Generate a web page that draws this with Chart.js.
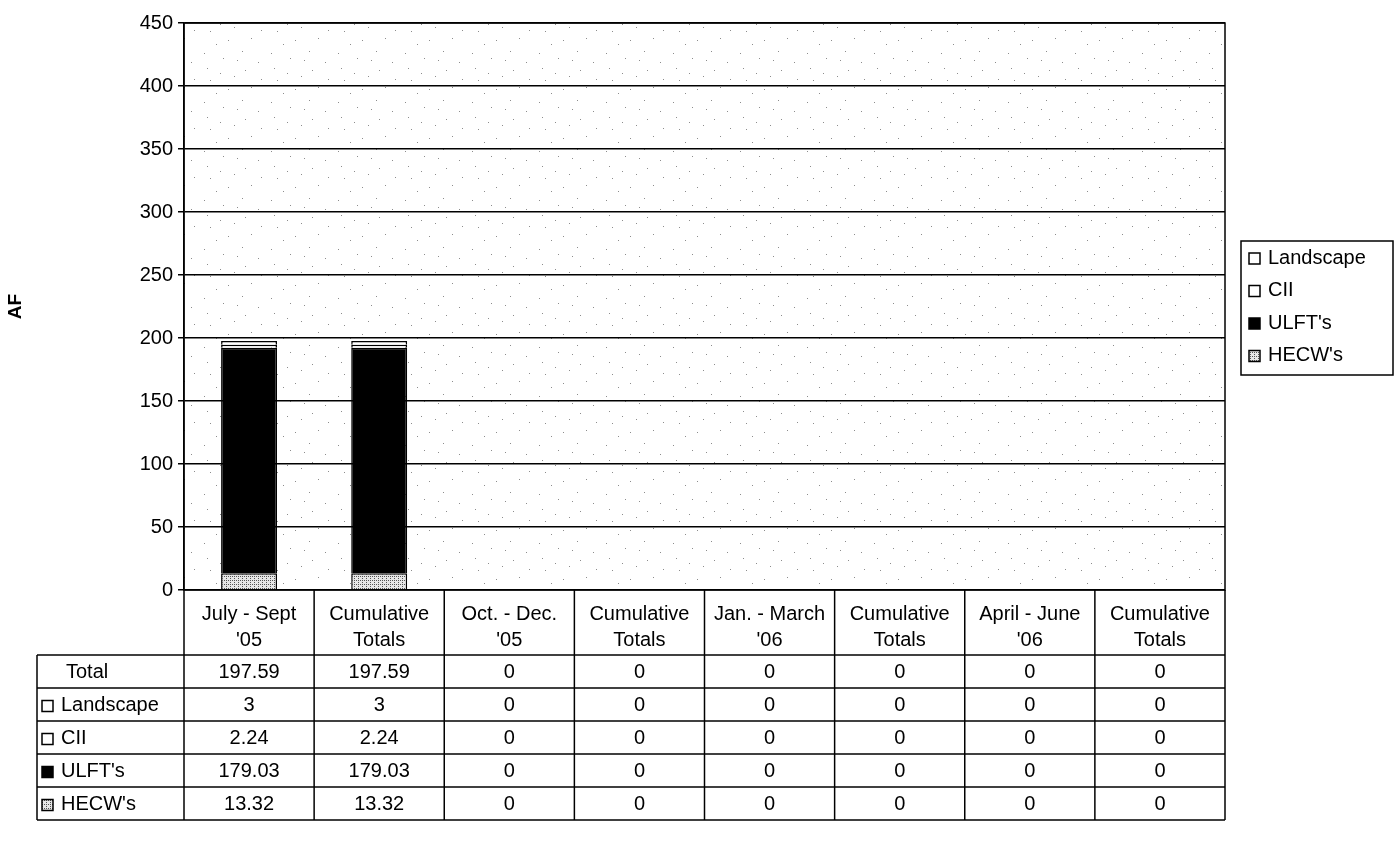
<!DOCTYPE html>
<html>
<head>
<meta charset="utf-8">
<script src="https://cdn.jsdelivr.net/npm/chart.js@4.4.1/dist/chart.umd.min.js"></script>
<style>
    html, body { margin: 0; padding: 0; background: #fff; }
    #wrap { width: 1398px; height: 864px; }
</style>
</head>
<body>
<div id="wrap"><canvas id="myChart"></canvas></div>
<script>
const categories = [
    ['July - Sept', "'05"], ['Cumulative', 'Totals'],
    ['Oct. - Dec.', "'05"], ['Cumulative', 'Totals'],
    ['Jan. - March', "'06"], ['Cumulative', 'Totals'],
    ['April - June', "'06"], ['Cumulative', 'Totals']
];
const totals = [197.59, 197.59, 0, 0, 0, 0, 0, 0];
const landscape = [3, 3, 0, 0, 0, 0, 0, 0];
const cii = [2.24, 2.24, 0, 0, 0, 0, 0, 0];
const ulfts = [179.03, 179.03, 0, 0, 0, 0, 0, 0];
const hecws = [13.32, 13.32, 0, 0, 0, 0, 0, 0];

const FONT = "'Liberation Sans', Arial, sans-serif";
Chart.defaults.font.family = FONT;
Chart.defaults.color = '#000';

// light hatch for HECW's
const makeHatch = () => {
    const c = document.createElement('canvas');
    c.width = 4; c.height = 4;
    const p = c.getContext('2d');
    p.fillStyle = '#e6e6e6';
    p.fillRect(0, 0, 4, 4);
    p.fillStyle = '#555';
    p.fillRect(0, 0, 1, 1);
    p.fillRect(2, 2, 1, 1);
    p.fillRect(2, 0, 1, 1);
    return p.createPattern(c, 'repeat');
};
const hecwFill = makeHatch();

// sparse speckle for the plot background (fixed dot spots)
const speckleDots = [
    [3, 4], [41, 2], [57, 13], [22, 9], [9, 31], [33, 27], [50, 38],
    [15, 44], [44, 21], [27, 40], [60, 30], [6, 19], [36, 11], [19, 24]
];
const makeSpeckle = (ctx) => {
    const c = document.createElement('canvas');
    c.width = 67; c.height = 49;
    const p = c.getContext('2d');
    p.fillStyle = '#ffffff';
    p.fillRect(0, 0, 67, 49);
    p.fillStyle = '#8c8c8c';
    speckleDots.forEach(d => p.fillRect(d[0], d[1], 1, 1));
    return ctx.createPattern(c, 'repeat');
};

// legend order top to bottom, same as the table rows
const series = [
    {label: 'Landscape', data: landscape, color: '#ffffff'},
    {label: 'CII', data: cii, color: '#ffffff'},
    {label: "ULFT's", data: ulfts, color: '#000000'},
    {label: "HECW's", data: hecws, color: hecwFill}
];

const headerH = 65;
const rowH = 33;
const tableLeft = 37;

function drawMarker(ctx, x, y, fill) {
    ctx.fillStyle = fill;
    ctx.fillRect(x, y - 5, 11, 11);
    ctx.strokeStyle = '#000';
    ctx.lineWidth = 1.5;
    ctx.strokeRect(x, y - 5, 11, 11);
}

const backgroundPlugin = {
    id: 'backgroundPlugin',
    beforeDraw(chart) {
        const a = chart.chartArea;
        chart.ctx.save();
        chart.ctx.fillStyle = makeSpeckle(chart.ctx);
        chart.ctx.fillRect(a.left, a.top, a.right - a.left, a.bottom - a.top);
        chart.ctx.restore();
    }
};

const tablePlugin = {
    id: 'tablePlugin',
    afterDraw(chart) {
        const ctx = chart.ctx;
        const area = chart.chartArea;
        const xs = chart.scales.x;
        const colW = (area.right - area.left) / categories.length;
        const top = area.bottom + headerH;
        const bottom = top + rowH * 5;

        ctx.save();
        // plot border
        ctx.strokeStyle = '#000';
        ctx.lineWidth = 1.5;
        ctx.strokeRect(area.left, area.top, area.right - area.left, area.bottom - area.top);

        // column lines
        for (let i = 0; i <= categories.length; i++) {
            const x = area.left + i * colW;
            ctx.beginPath();
            ctx.moveTo(x, area.bottom);
            ctx.lineTo(x, bottom);
            ctx.stroke();
        }
        ctx.beginPath();
        ctx.moveTo(tableLeft, top);
        ctx.lineTo(tableLeft, bottom);
        ctx.stroke();

        // row lines
        for (let r = 0; r <= 5; r++) {
            const y = top + r * rowH;
            ctx.beginPath();
            ctx.moveTo(tableLeft, y);
            ctx.lineTo(area.right, y);
            ctx.stroke();
        }

        const rows = [{label: 'Total', data: totals}].concat(series);
        ctx.font = '20px ' + FONT;
        ctx.textBaseline = 'middle';
        rows.forEach((row, r) => {
            const cy = top + r * rowH + rowH / 2 + 1;
            ctx.fillStyle = '#000';
            ctx.textAlign = 'left';
            if (r === 0) {
                ctx.fillText(row.label, tableLeft + 29, cy);
            } else {
                drawMarker(ctx, tableLeft + 5, cy, row.color);
                ctx.fillStyle = '#000';
                ctx.fillText(row.label, tableLeft + 24, cy);
            }
            ctx.textAlign = 'center';
            ctx.fillStyle = '#000';
            row.data.forEach((v, i) => {
                ctx.fillText(String(v), xs.getPixelForValue(i), cy);
            });
        });

        // legend box on the right
        const lx = area.right + 16;
        const ly = 241;
        ctx.strokeRect(lx, ly, 152, 134);
        ctx.font = '20px ' + FONT;
        ctx.textAlign = 'left';
        series.forEach((s, i) => {
            const cy = ly + 17 + i * 32.5;
            drawMarker(ctx, lx + 8, cy, s.color);
            ctx.fillStyle = '#000';
            ctx.fillText(s.label, lx + 27, cy);
        });
        ctx.restore();
    }
};

const ctx = document.getElementById('myChart').getContext('2d');

new Chart(ctx, {
    type: 'bar',
    data: {
        labels: categories,
        // stacked bottom to top
        datasets: series.slice().reverse().map(s => ({
            label: s.label,
            data: s.data,
            backgroundColor: s.color,
            borderColor: '#000',
            borderWidth: 1.5,
            barPercentage: 0.43,
            categoryPercentage: 1
        }))
    },
    options: {
        responsive: true,
        maintainAspectRatio: false,
        animation: false,
        layout: {
            padding: {top: 23, right: 173, bottom: 209, left: 0}
        },
        plugins: {
            legend: {display: false},
            tooltip: {enabled: false}
        },
        scales: {
            x: {
                stacked: true,
                grid: {display: false},
                border: {display: false},
                ticks: {
                    font: {size: 20, lineHeight: 1.3},
                    padding: 3,
                    maxRotation: 0,
                    autoSkip: false
                },
                afterFit: (scale) => { scale.height = headerH; }
            },
            y: {
                stacked: true,
                min: 0,
                max: 450,
                ticks: {
                    stepSize: 50,
                    font: {size: 20},
                    padding: 5
                },
                grid: {
                    color: '#000',
                    lineWidth: 1.5,
                    tickLength: 6
                },
                border: {color: '#000', width: 1.5},
                title: {
                    display: true,
                    text: 'AF',
                    font: {size: 19, weight: 'bold'},
                    padding: {top: 4, bottom: 0}
                },
                afterFit: (scale) => { scale.width = 184; }
            }
        }
    },
    plugins: [backgroundPlugin, tablePlugin]
});
</script>
</body>
</html>
